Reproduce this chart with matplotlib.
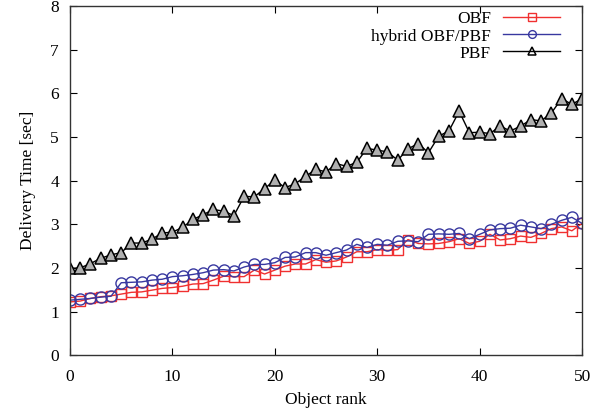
import numpy as np
import matplotlib
matplotlib.use("Agg")
import matplotlib.pyplot as plt

plt.rcParams.update({
    "font.family": ["Liberation Serif", "DejaVu Serif"],
    "font.size": 12.5,
    "xtick.direction": "in", "ytick.direction": "in",
    "xtick.top": True, "ytick.right": True,
    "xtick.major.size": 5, "ytick.major.size": 5,
})

rank = np.arange(0, 51)

obf = [1.22, 1.24, 1.30, 1.34, 1.36, 1.40, 1.44, 1.45, 1.49, 1.53,
       1.55, 1.58, 1.63, 1.64, 1.72, 1.81, 1.80, 1.80, 1.95, 1.86,
       1.95, 2.04, 2.09, 2.09, 2.19, 2.13, 2.16, 2.25, 2.37, 2.37,
       2.42, 2.40, 2.42, 2.65, 2.56, 2.55, 2.56, 2.60, 2.67, 2.56,
       2.61, 2.77, 2.64, 2.67, 2.73, 2.70, 2.79, 2.90, 2.94, 2.85,
       3.02]

hybrid = [1.26, 1.28, 1.30, 1.33, 1.35, 1.66, 1.67, 1.68, 1.72, 1.74,
          1.80, 1.82, 1.85, 1.89, 1.95, 1.96, 1.93, 2.02, 2.08, 2.08,
          2.12, 2.24, 2.25, 2.35, 2.35, 2.29, 2.35, 2.41, 2.54, 2.47,
          2.54, 2.52, 2.61, 2.62, 2.60, 2.77, 2.78, 2.77, 2.79, 2.67,
          2.77, 2.87, 2.90, 2.91, 2.98, 2.94, 2.90, 3.00, 3.09, 3.16,
          3.02]

pbf = [1.99, 2.00, 2.10, 2.22, 2.30, 2.35, 2.57, 2.57, 2.66, 2.80,
       2.82, 2.93, 3.11, 3.22, 3.34, 3.30, 3.20, 3.64, 3.63, 3.82,
       4.01, 3.84, 3.93, 4.10, 4.26, 4.20, 4.39, 4.33, 4.42, 4.74,
       4.70, 4.66, 4.47, 4.73, 4.85, 4.64, 5.02, 5.14, 5.59, 5.10,
       5.11, 5.08, 5.25, 5.14, 5.25, 5.40, 5.37, 5.55, 5.88, 5.75,
       5.88]

fig = plt.figure(figsize=(6.01, 4.12), dpi=100)
ax = fig.add_axes([0.1165, 0.138, 0.852, 0.847])

ax.plot(rank, obf, color="#f03030", lw=1.0, marker="s", ms=7.5,
        mfc="none", mec="#f03030", mew=1.0, label="OBF")
ax.plot(rank, hybrid, color="#3838a0", lw=1.0, marker="o", ms=8,
        mfc="none", mec="#3838a0", mew=1.0, label="hybrid OBF/PBF")
ax.plot(rank, pbf, color="black", lw=1.0, marker="^", ms=8,
        mfc="#b0b0b0", mec="black", mew=1.1, label="PBF")

ax.set_xlim(0, 50)
ax.set_ylim(0, 8)
ax.set_xticks(range(0, 51, 10))
ax.set_yticks(range(0, 9))
ax.tick_params(axis="x", pad=10)
ax.tick_params(axis="y", pad=8)
for s in ax.spines.values():
    s.set_linewidth(1.0)
    s.set_color("#333333")

ax.set_xlabel("Object rank", labelpad=5)
ax.set_ylabel("Delivery Time [sec]", labelpad=10)

leg = ax.legend(loc="upper right", bbox_to_anchor=(0.985, 1.025), frameon=False,
                markerfirst=False, handlelength=3.3, labelspacing=0.05,
                handletextpad=0.7, borderpad=0.3, markerscale=0.7)
leg._legend_box.align = "right"
for h in leg.legend_handles:
    h.set_markerfacecolor("none")

fig.savefig("out.png", dpi=100)
